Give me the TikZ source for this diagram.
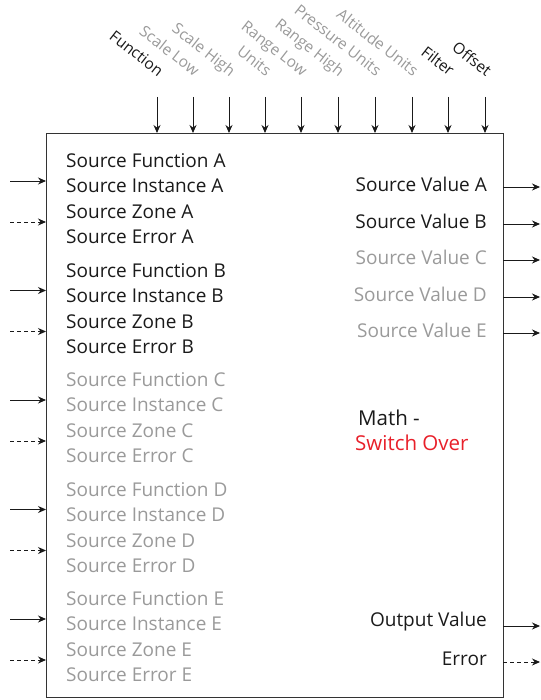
\documentclass[tikz,border=0pt]{standalone}
\usepackage{fontspec}
\setmainfont{Open Sans}
\usetikzlibrary{arrows.meta}
\definecolor{txtblack}{HTML}{1A1A1A}
\definecolor{txtgrey}{HTML}{9A9A9A}
\definecolor{txtred}{HTML}{E8202A}
\definecolor{boxline}{HTML}{333333}
\tikzset{
  lbl/.style={font=\fontsize{19}{19}\selectfont, inner sep=0pt},
  lleft/.style={lbl, anchor=west},
  lright/.style={lbl, anchor=east},
  toplbl/.style={font=\fontsize{15.5}{15.5}\selectfont, inner sep=0pt, rotate=-38, anchor=base east},
  sig/.style={-{Stealth[length=8pt,width=7pt]}, line width=0.9pt, color=txtblack},
  dsig/.style={sig, dash pattern=on 4pt off 3pt},
}
\begin{document}
\begin{tikzpicture}[x=1pt,y=-1pt]
\useasboundingbox (0,0) rectangle (540,700);
\node[draw=boxline, line width=1pt, minimum width=457pt, minimum height=564pt, inner sep=0pt, anchor=north west] (box) at (46,133) {};

% top inputs
\foreach \name/\lab/\col/\xx [count=\i] in {
  tf/Function/txtblack/157, tsl/Scale Low/txtgrey/193, tsh/Scale High/txtgrey/229,
  tu/Units/txtgrey/265, trl/Range Low/txtgrey/301, trh/Range High/txtgrey/338,
  tpu/Pressure Units/txtgrey/375, tau/Altitude Units/txtgrey/412,
  tfi/Filter/txtblack/448, tof/Offset/txtblack/485} {
  \coordinate (\name s) at (\xx,97);
  \coordinate (\name e) at (\xx,133);
  \draw[sig] (\name s) -- (\name e);
  \node[toplbl, text=\col] (\name l) at (\xx+1,77) {\lab};
}

% left groups
\foreach \g/\col [count=\k from 0] in {A/txtblack, B/txtblack, C/txtgrey, D/txtgrey, E/txtgrey} {
  \pgfmathsetmacro{\yo}{109.5*\k}
  \node[lleft, text=\col] (fn\g) at (66,161+\yo) {Source Function \g};
  \node[lleft, text=\col] (in\g) at (66,186+\yo) {Source Instance \g};
  \node[lleft, text=\col] (zn\g) at (66,212+\yo) {Source Zone \g};
  \node[lleft, text=\col] (er\g) at (66,237+\yo) {Source Error \g};
  \coordinate (ls\g) at (10,181+\yo);
  \coordinate (le\g) at (46,181+\yo);
  \coordinate (lds\g) at (10,222+\yo);
  \coordinate (lde\g) at (46,222+\yo);
  \draw[sig] (ls\g) -- (le\g);
  \draw[dsig] (lds\g) -- (lde\g);
}

% right outputs
\foreach \g/\col/\yy in {A/txtblack/184, B/txtblack/221, C/txtgrey/257, D/txtgrey/294, E/txtgrey/330} {
  \node[lright, text=\col] (sv\g) at (487,\yy) {Source Value \g};
  \coordinate (rs\g) at (503,\yy+3);
  \coordinate (re\g) at (540,\yy+3);
  \draw[sig] (rs\g) -- (re\g);
}
\node[lright, text=txtblack] (ov) at (487,622) {Output Value};
\coordinate (ovs) at (503,626);
\coordinate (ove) at (540,626);
\draw[sig] (ovs) -- (ove);
\node[lright, text=txtblack] (err) at (487,659) {Error};
\coordinate (errs) at (503,662);
\coordinate (erre) at (540,662);
\draw[dsig] (errs) -- (erre);

% title
\node[lbl, anchor=west, font=\fontsize{20.5}{20.5}\selectfont, text=txtblack] (t1) at (358,418) {Math -};
\node[lbl, anchor=west, font=\fontsize{20.5}{20.5}\selectfont, text=txtred] (t2) at (355,443) {Switch Over};
\end{tikzpicture}
\end{document}
